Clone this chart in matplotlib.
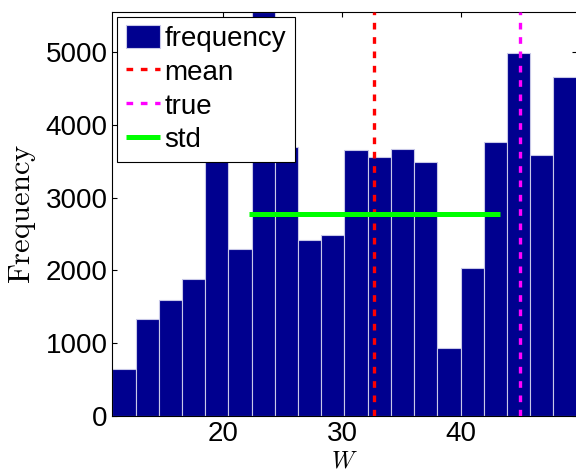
import numpy as np
import matplotlib
matplotlib.use("Agg")
import matplotlib.pyplot as plt

# ── Data ──────────────────────────────────────────────────────────────────────
w_min, w_max = 10.625, 49.79          # histogram range of W
counts = [637, 1324, 1599, 1887, 3650, 2294, 5560, 3695, 2423, 2486,
          3659, 3558, 3677, 3494, 926, 2033, 3769, 4992, 3591, 4666]
w_mean = 32.74
w_true = 45.0
w_std = 10.6
x_ticks = [20, 30, 40]
y_ticks = [0, 1000, 2000, 3000, 4000, 5000]

plt.rcParams["font.family"] = ["Liberation Sans", "DejaVu Sans"]
plt.rcParams["mathtext.fontset"] = "cm"

BAR_COLOR = "#00008f"

fig = plt.figure(figsize=(5.76, 4.76), dpi=100)
ax = fig.add_axes([0.195, 0.1267, 0.806, 0.8487])

edges = np.linspace(w_min, w_max, len(counts) + 1)
h_bar = ax.bar(edges[:-1], counts, width=np.diff(edges), align="edge",
               color=BAR_COLOR, edgecolor="#c8c8e8", linewidth=0.8,
               label="frequency", zorder=2)

ymax = max(counts)
h_mean = ax.axvline(w_mean, color="#ff0000", lw=2.4, linestyle=(0, (2.0, 2.3)),
                    label="mean", zorder=3)
h_true = ax.axvline(w_true, color="#ff00ff", lw=2.4, linestyle=(0, (2.0, 2.3)),
                    label="true", zorder=3)
h_std, = ax.plot([w_mean - w_std, w_mean + w_std], [ymax / 2, ymax / 2],
                 color="#00ff00", lw=3.6, solid_capstyle="butt", label="std",
                 zorder=4)

ax.set_xlim(w_min, w_max)
ax.set_ylim(0, ymax)
ax.set_xticks(x_ticks)
ax.set_yticks(y_ticks)
ax.tick_params(direction="in", length=3.6, width=0.8, labelsize=20,
               top=True, right=True)
ax.tick_params(axis="x", pad=4)
ax.tick_params(axis="y", pad=3.5)
for s in ax.spines.values():
    s.set_linewidth(0.8)

ax.set_ylabel(r"$\mathrm{Frequency}$", fontsize=22)
ax.yaxis.set_label_coords(-0.160, 0.5)
ax.set_xlabel(r"$W$", fontsize=17)
ax.xaxis.set_label_coords(0.5, -0.085)

leg = ax.legend([h_bar, h_mean, h_true, h_std],
                ["frequency", "mean", "true", "std"],
                loc="upper left", fontsize=20, frameon=True, fancybox=False,
                framealpha=1, edgecolor="black", borderaxespad=0.18,
                borderpad=0.3, labelspacing=0.24, handlelength=1.22,
                handleheight=0.9, handletextpad=0.18)
leg.get_frame().set_linewidth(0.8)
leg.set_zorder(10)

fig.savefig("out.png", dpi=100)
